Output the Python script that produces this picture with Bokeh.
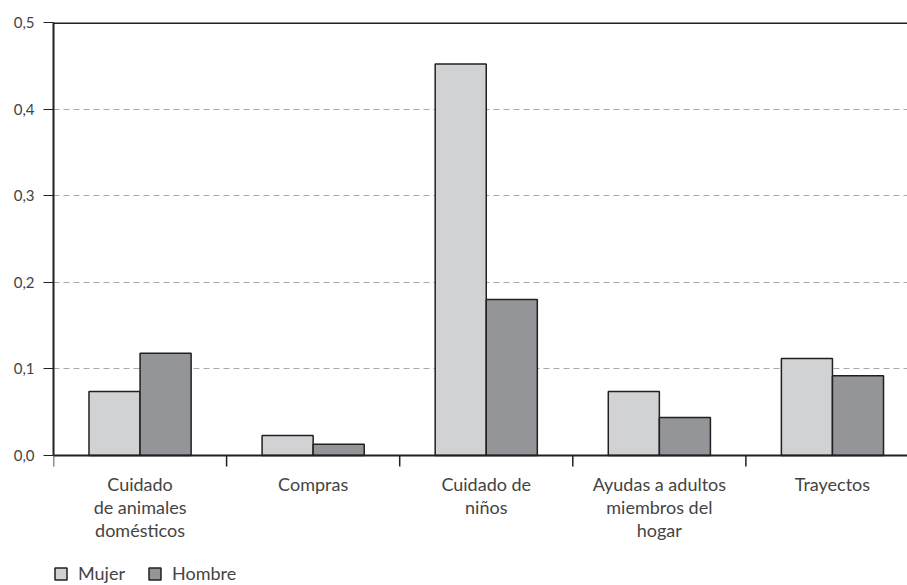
from bokeh.plotting import figure
from bokeh.models import (FixedTicker, CustomJSTickFormatter, Legend, LegendItem,
                          ColumnDataSource, Range1d, Span)
from bokeh.core.properties import value
from bokeh.embed import file_html
from bokeh.resources import INLINE

categories = ["Cuidado\nde animales\ndomésticos", "Compras", "Cuidado de\nniños",
              "Ayudas a adultos\nmiembros del\nhogar", "Trayectos"]
mujer = [0.074, 0.023, 0.452, 0.074, 0.112]
hombre = [0.118, 0.013, 0.180, 0.044, 0.092]
y_ticks = [0.0, 0.1, 0.2, 0.3, 0.4, 0.5]

FONT = "Lato"
DARK = "#231f20"
TXT = "#444444"

FRAME_W, FRAME_H = 854, 563
PX_PER_UNIT = 866.0          # vertical pixels per 1.0 of value
PX_PER_CAT = 173.1           # horizontal pixels per category
y_bottom = -130 / PX_PER_UNIT

n = len(categories)
centers = [i + 0.5 for i in range(n)]
bw = 0.295
src = ColumnDataSource(dict(
    xm=[c - bw / 2 for c in centers], xh=[c + bw / 2 for c in centers],
    mujer=mujer, hombre=hombre))

p = figure(frame_width=FRAME_W, frame_height=FRAME_H, output_backend="svg",
           toolbar_location=None,
           x_range=Range1d(0, FRAME_W / PX_PER_CAT), y_range=Range1d(y_bottom, 0.5),
           min_border_left=53, min_border_right=0, min_border_top=22, min_border_bottom=0)
p.outline_line_color = None
p.background_fill_color = "white"
p.border_fill_color = "white"

# grid
p.xgrid.grid_line_color = None
p.ygrid.ticker = FixedTicker(ticks=[0.1, 0.2, 0.3, 0.4])
p.ygrid.grid_line_color = "#a7a9ac"
p.ygrid.grid_line_dash = "6 4"
p.ygrid.grid_line_width = 1

rm = p.vbar(x="xm", top="mujer", width=bw, source=src, fill_color="#d1d2d4",
            line_color=DARK, line_width=1.5)
rh = p.vbar(x="xh", top="hombre", width=bw, source=src, fill_color="#939598",
            line_color=DARK, line_width=1.5)

# y axis
p.yaxis.ticker = FixedTicker(ticks=y_ticks, minor_ticks=[])
p.yaxis.bounds = (0, 0.5)
p.yaxis.formatter = CustomJSTickFormatter(code="return tick.toFixed(1).replace('.', ',');")
p.yaxis.axis_line_color = DARK
p.yaxis.axis_line_width = 2
p.yaxis.major_tick_line_color = DARK
p.yaxis.major_tick_in = 0
p.yaxis.major_tick_out = 10
p.yaxis.major_label_text_font = FONT
p.yaxis.major_label_text_font_size = "15px"
p.yaxis.major_label_text_color = TXT
p.yaxis.major_label_standoff = 9

# x axis drawn inside the frame (baseline, ticks, labels)
p.xaxis.visible = False
p.add_layout(Span(location=0.5, dimension="width", line_color=DARK, line_width=3))
p.add_layout(Span(location=0.0, dimension="width", line_color=DARK, line_width=2))
bounds = list(range(n + 1))
p.segment(x0=bounds, y0=[0] * len(bounds), x1=bounds,
          y1=[-11 / PX_PER_UNIT] * len(bounds), line_color=DARK, line_width=1.5)
p.text(x=centers, y=[-17 / PX_PER_UNIT] * n, text=categories,
       text_font=value(FONT), text_font_size="18px", text_color=TXT,
       text_align="center", text_baseline="top", text_line_height=1.065)

legend = Legend(items=[LegendItem(label="Mujer", renderers=[rm]),
                       LegendItem(label="Hombre", renderers=[rh])],
                orientation="horizontal", location=(0, 1),
                label_text_font=FONT, label_text_font_size="18px", label_text_color=TXT,
                glyph_width=15, glyph_height=15, spacing=22, label_standoff=10,
                label_height=15, padding=0, margin=0, border_line_color=None,
                background_fill_alpha=0)
p.add_layout(legend, "center")

open("out.html", "w").write(file_html(p, INLINE))
